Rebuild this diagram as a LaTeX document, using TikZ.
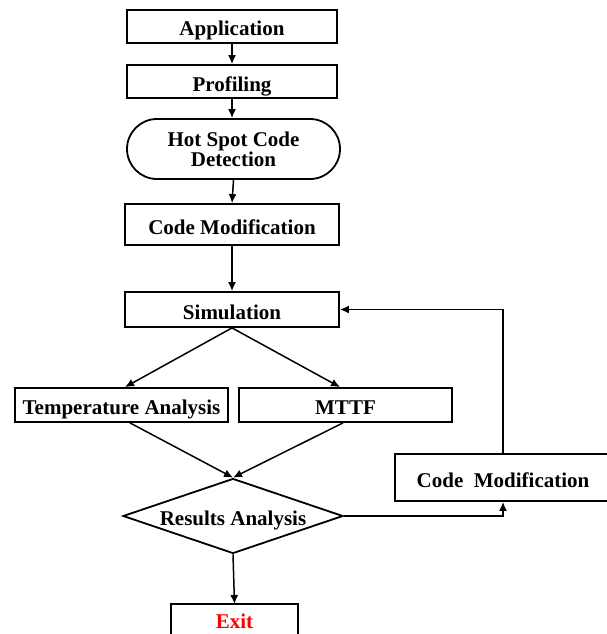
\documentclass[tikz,border=0pt]{standalone}
\usepackage{fontspec}
\setmainfont{Liberation Serif}
\usetikzlibrary{shapes.geometric,shapes.misc,arrows.meta,calc}
\begin{document}
\begin{tikzpicture}[x=1pt,y=-1pt,
  every node/.style={font=\fontsize{21}{23}\selectfont\bfseries},
  one/.style={text height=19pt,text depth=0pt},
  boxline/.style={line width=1.8pt},
  box/.style={draw,boxline,rectangle,inner sep=0pt,one},
  stadium/.style={draw,boxline,rounded rectangle,inner sep=0pt,align=center},
  decision/.style={draw,boxline,diamond,aspect=2.9,inner sep=0pt,one},
  conn/.style={line width=1.5pt,-{Latex[length=9pt,width=8pt]}}]
\clip (0,0) rectangle (607,634);
\useasboundingbox (0,0) rectangle (607,634);
\node[box,minimum width=210pt,minimum height=33pt] (app) at (232,26.5) {Application};
\node[box,minimum width=210pt,minimum height=33pt] (prof) at (232,81.5) {Profiling};
\node[stadium,minimum width=213pt,minimum height=60pt] (hot) at (233.5,149) {Hot Spot Code\\[-3pt]Detection};
\node[box,minimum width=214pt,minimum height=41pt] (cm1) at (232,224.5) {Code Modification};
\node[box,minimum width=214pt,minimum height=35pt] (sim) at (232,309.5) {Simulation};
\node[box,minimum width=213pt,minimum height=34pt] (temp) at (121.5,405) {Temperature Analysis};
\node[box,minimum width=213pt,minimum height=34pt] (mttf) at (345.5,405) {MTTF};
\node[decision,minimum width=220pt,minimum height=75pt] (res) at (233,516) {Results Analysis};
\node[box,minimum width=216pt,minimum height=47pt] (cm2) at (503,477.5) {Code\ \ Modification};
\node[inner sep=0pt,text=red] (exit) at (234.5,621) {Exit};
\coordinate (etop) at (234.5,604);
\coordinate (etl) at (171,604);
\coordinate (etr) at (298,604);
\draw[boxline] (etl |- 0,640) -- (etl) -- (etr) -- (etr |- 0,640);
\draw[conn] (app) -- (prof);
\draw[conn] (prof) -- (prof |- hot.north);
\draw[conn] (hot.south) -- (cm1.north);
\draw[conn] (cm1) -- (sim);
\draw[conn] (sim.south) -- ([xshift=3.5pt]temp.north);
\draw[conn] (sim.south) -- ([xshift=-5.5pt]mttf.north);
\draw[conn] ([xshift=8.5pt]temp.south) -- (res.north);
\draw[conn] ([xshift=-2.5pt]mttf.south) -- (res.north);
\draw[conn] (res.south) -- (etop);
\draw[conn] (res.east) -| (cm2.south);
\draw[conn] (cm2.north) |- (sim.east);
\end{tikzpicture}
\end{document}
